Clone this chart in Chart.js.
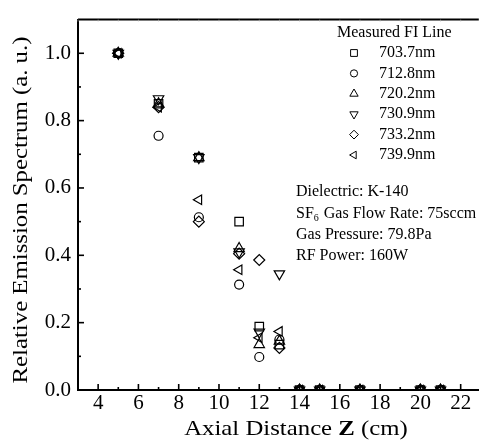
<!DOCTYPE html>
<html>
<head>
<meta charset="utf-8">
<script src="https://cdn.jsdelivr.net/npm/chart.js@4/dist/chart.umd.min.js"></script>
<style>
  html, body { margin: 0; padding: 0; background: #fff; }
  #wrap { width: 486px; height: 441px; }
</style>
</head>
<body>
<div id="wrap"><canvas id="chart"></canvas></div>
<script>
"use strict"

// axial positions (cm)
const zPos = [5, 7, 9, 11, 12, 13, 14, 15, 17, 20, 21]

// relative emission per FI line
const s7037 = [1.0, 0.85, 0.69, 0.50, 0.188, 0.135, 0, 0, 0, 0, 0]
const s7128 = [1.0, 0.755, 0.513, 0.313, 0.098, 0.15, 0, 0, 0, 0, 0]
const s7202 = [1.0, 0.85, 0.69, 0.42, 0.135, 0.145, 0, 0, 0, 0, 0]
const s7309 = [1.0, 0.865, 0.69, 0.41, 0.172, 0.345, 0, 0, 0, 0, 0]
const s7332 = [1.0, 0.84, 0.50, 0.405, 0.386, 0.125, 0, 0, 0, 0, 0]
const s7399 = [1.0, 0.84, 0.565, 0.357, 0.155, 0.174, 0, 0, 0, 0, 0]

const lineNames = ["703.7nm", "712.8nm", "720.2nm", "730.9nm", "733.2nm", "739.9nm"]
const lineVals = [s7037, s7128, s7202, s7309, s7332, s7399]
const shapes = ["rect", "circle", "triangle", "triangle", "rectRot", "triangle"]
const rots = [0, 0, 0, 180, 0, -90]
const sizes = [6, 4.5, 6, 6, 5.5, 5.5]

const xTicks = [4, 6, 8, 10, 12, 14, 16, 18, 20, 22]
const yTicks = [0, 0.2, 0.4, 0.6, 0.8, 1.0]

const notes = ["Dielectric: K-140", "SF6 Gas Flow Rate: 75sccm", "Gas Pressure: 79.8Pa", "RF Power: 160W"]

const serif = "'Liberation Serif', 'Times New Roman', serif"
const stretch = 1.18   // the original type is wider than Times

const datasets = lineVals.map((vals, i) => ({
  label: lineNames[i],
  data: zPos.map((z, j) => ({x: z, y: vals[j]})),
  showLine: false,
  pointStyle: shapes[i],
  rotation: rots[i],
  pointRadius: sizes[i],
  pointBorderWidth: 1.2,
  pointBorderColor: "#000",
  pointBackgroundColor: "rgba(0,0,0,0)",
  borderColor: "#000",
  backgroundColor: "rgba(0,0,0,0)"
}))

function stretchedText(ctx, parts, cx, by) {
  let tw = 0
  parts.forEach(p => { ctx.font = p[1]; tw += ctx.measureText(p[0]).width })
  ctx.save()
  ctx.translate(cx, by)
  ctx.scale(stretch, 1)
  let tx = -tw / 2
  ctx.textAlign = "left"
  ctx.textBaseline = "alphabetic"
  parts.forEach(p => { ctx.font = p[1]; ctx.fillText(p[0], tx, 0); tx += ctx.measureText(p[0]).width })
  ctx.restore()
}

// inward ticks, top frame, titles, legend and notes
const decoPlugin = {
  id: "deco",
  afterDraw(chart) {
    const {ctx, chartArea: a, scales: {x, y}} = chart
    ctx.save()
    ctx.strokeStyle = "#000"
    ctx.fillStyle = "#000"
    // top frame
    ctx.lineWidth = 2
    ctx.beginPath(); ctx.moveTo(a.left, a.top); ctx.lineTo(a.right, a.top); ctx.stroke()
    // x ticks
    for (let v = 3; v <= 22; v++) {
      const px = x.getPixelForValue(v)
      const major = v % 2 == 0
      ctx.lineWidth = 1.6
      ctx.beginPath(); ctx.moveTo(px, a.bottom); ctx.lineTo(px, a.bottom - (major ? 6 : 3)); ctx.stroke()
      ctx.lineWidth = 0.6
      ctx.strokeStyle = "#bbb"
      ctx.beginPath(); ctx.moveTo(px, a.top); ctx.lineTo(px, a.top + 2); ctx.stroke()
      ctx.strokeStyle = "#000"
    }
    // y ticks
    for (let k = 0; k <= 10; k++) {
      const py = y.getPixelForValue(k / 10)
      const major = k % 2 == 0
      ctx.lineWidth = 1.6
      ctx.beginPath(); ctx.moveTo(a.left, py); ctx.lineTo(a.left + (major ? 6 : 3), py); ctx.stroke()
    }
    // x title with bold Z
    const f = "21px " + serif
    stretchedText(ctx, [["Axial Distance ", f], ["Z", "bold " + f], [" (cm)", f]], 296, 435)
    // y title
    ctx.save()
    ctx.translate(27, 210)
    ctx.rotate(-Math.PI / 2)
    stretchedText(ctx, [["Relative Emission Spectrum (a. u.)", f]], 0, 0)
    ctx.restore()
    // legend
    ctx.font = "16px " + serif
    ctx.textAlign = "left"
    ctx.textBaseline = "middle"
    ctx.fillText("Measured FI Line", 337, 33)
    lineNames.forEach((n, i) => {
      const ly = 53 + i * 20.4
      ctx.lineWidth = 1
      ctx.fillStyle = "rgba(0,0,0,0)"
      Chart.helpers.drawPoint(ctx, {pointStyle: shapes[i], rotation: rots[i], radius: sizes[i] * 0.8, borderWidth: 1}, 354, ly)
      ctx.fillStyle = "#000"
      ctx.fillText(n, 379, ly)
    })
    // conditions
    notes.forEach((t, i) => {
      const ny = 192 + i * 21.3
      if (t.startsWith("SF6")) {
        ctx.fillText("SF", 296, ny)
        let w = ctx.measureText("SF").width
        ctx.font = "10px " + serif
        ctx.fillText("6", 296 + w, ny + 5)
        w += ctx.measureText("6").width + 1
        ctx.font = "16px " + serif
        ctx.fillText(t.slice(3), 296 + w, ny)
      } else {
        ctx.fillText(t, 296, ny)
      }
    })
    ctx.restore()
  }
}

new Chart("chart", {
  type: "scatter",
  data: {datasets},
  options: {
    responsive: true,
    maintainAspectRatio: false,
    animation: false,
    layout: {padding: {top: 11, right: 0, left: 0, bottom: 0}},
    plugins: {legend: {display: false}, tooltip: {enabled: false}},
    scales: {
      x: {
        type: "linear",
        min: 3, max: 22.9,
        grid: {display: false, drawTicks: false},
        border: {display: true, color: "#000", width: 2},
        afterBuildTicks: s => { s.ticks = xTicks.map(v => ({value: v})) },
        afterFit: s => { s.height = 51 },
        ticks: {color: "#000", padding: 1, maxRotation: 0, font: {family: serif, size: 21}, callback: v => v}
      },
      y: {
        type: "linear",
        min: 0, max: 1.1,
        grid: {display: false, drawTicks: false},
        border: {display: true, color: "#000", width: 2},
        afterBuildTicks: s => { s.ticks = yTicks.map(v => ({value: v})) },
        afterFit: s => { s.width = 78 },
        ticks: {color: "#000", padding: 7, font: {family: serif, size: 21}, callback: v => v.toFixed(1)}
      }
    }
  },
  plugins: [decoPlugin]
})
</script>
</body>
</html>
